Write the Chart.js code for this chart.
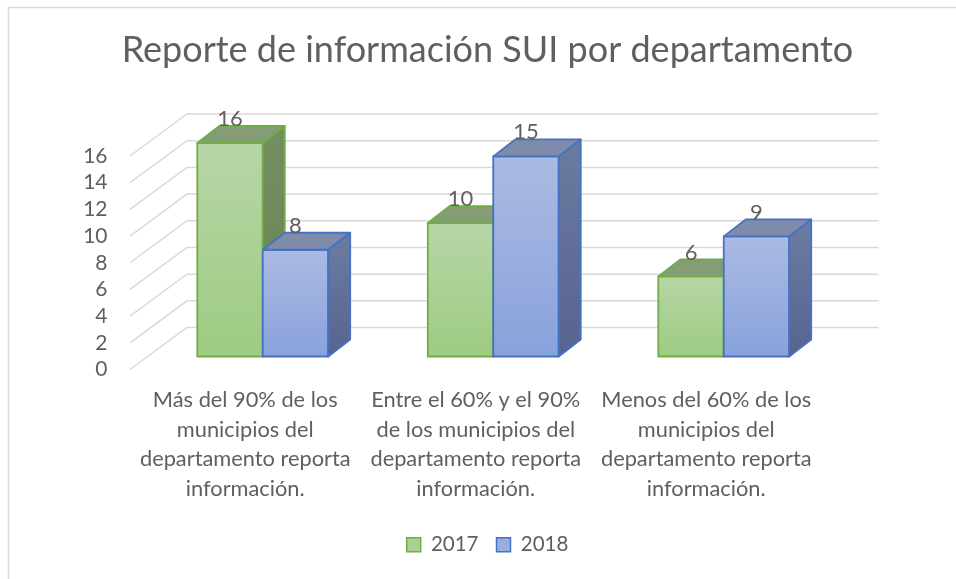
<!DOCTYPE html>
<html lang="es">
<head>
<meta charset="UTF-8">
<title>Reporte de información SUI por departamento</title>
<script src="https://cdn.jsdelivr.net/npm/chart.js"></script>
<style>
    html, body { margin: 0; padding: 0; background: #fff; }
    .marco { position: absolute; left: 0; top: 0; width: 956px; height: 579px; }
</style>
</head>
<body>
<div class="marco">
    <canvas id="grafico_barras" width="956" height="579"></canvas>
</div>
<script>
    // datos
    var categorias = [
        ['Más del 90% de los', 'municipios del', 'departamento reporta', 'información.'],
        ['Entre el 60% y el 90%', 'de los municipios del', 'departamento reporta', 'información.'],
        ['Menos del 60% de los', 'municipios del', 'departamento reporta', 'información.']
    ];
    var series = ['2017', '2018'];
    var valores_2017 = [16, 10, 6];
    var valores_2018 = [8, 15, 9];
    var ticks_y = [0, 2, 4, 6, 8, 10, 12, 14, 16];

    var gris = '#5f5f5f';
    var fuente = 'Lato, "Open Sans", sans-serif';

    // colores de cada serie: frente (arriba/abajo), borde, tapa y lado
    var estilos = [
        { arriba: '#b7d6a7', abajo: '#9ecb82', borde: '#70ad47', tapa: '#849d74', ladoA: '#738f62', ladoB: '#66834f' },
        { arriba: '#abbae2', abajo: '#89a2dc', borde: '#4472c4', tapa: '#7f8baa', ladoA: '#6a79a0', ladoB: '#56648e' }
    ];

    // desplazamientos de la perspectiva (desde el plano frontal de las barras)
    var frente = { x: -17.5, y: 13 };
    var fondo = { x: 39.5, y: -29 };
    var prof = { x: 22, y: -17 };

    const grafico3d = {
        id: 'grafico3d',
        beforeDraw(chart) {
            const ctx = chart.ctx;
            ctx.save();
            ctx.strokeStyle = '#d9d9d9';
            ctx.lineWidth = 1.5;
            ctx.beginPath();
            ctx.moveTo(8.5, 579);
            ctx.lineTo(8.5, 7.5);
            ctx.lineTo(956, 7.5);
            ctx.stroke();
            ctx.restore();
        },
        beforeDatasetsDraw(chart) {
            const ctx = chart.ctx;
            const area = chart.chartArea;
            const y = chart.scales.y;
            ctx.save();
            ctx.strokeStyle = '#d9d9d9';
            ctx.lineWidth = 1.5;
            ticks_y.forEach(function (v) {
                const py = y.getPixelForValue(v);
                ctx.beginPath();
                ctx.moveTo(area.left + frente.x, py + frente.y);
                ctx.lineTo(area.left + fondo.x, py + fondo.y);
                ctx.lineTo(area.right + fondo.x, py + fondo.y);
                ctx.stroke();
            });
            ctx.restore();
        },
        afterDatasetsDraw(chart) {
            const ctx = chart.ctx;
            ctx.save();
            ctx.lineJoin = 'round';
            ctx.lineWidth = 1.8;
            for (let i = 0; i < categorias.length; i++) {
                for (let d = 0; d < chart.data.datasets.length; d++) {
                    const barra = chart.getDatasetMeta(d).data[i];
                    const p = barra.getProps(['x', 'y', 'base', 'width'], true);
                    const e = estilos[d];
                    const l = p.x - p.width / 2, r = p.x + p.width / 2;

                    // frente
                    let g = ctx.createLinearGradient(0, p.y, 0, p.base);
                    g.addColorStop(0, e.arriba);
                    g.addColorStop(1, e.abajo);
                    ctx.fillStyle = g;
                    ctx.strokeStyle = e.borde;
                    ctx.beginPath();
                    ctx.rect(l, p.y, p.width, p.base - p.y);
                    ctx.fill();
                    ctx.stroke();

                    // tapa
                    ctx.fillStyle = e.tapa;
                    ctx.beginPath();
                    ctx.moveTo(l, p.y);
                    ctx.lineTo(l + prof.x, p.y + prof.y);
                    ctx.lineTo(r + prof.x, p.y + prof.y);
                    ctx.lineTo(r, p.y);
                    ctx.closePath();
                    ctx.fill();
                    ctx.stroke();

                    // lado
                    g = ctx.createLinearGradient(0, p.y, 0, p.base);
                    g.addColorStop(0, e.ladoA);
                    g.addColorStop(1, e.ladoB);
                    ctx.fillStyle = g;
                    ctx.beginPath();
                    ctx.moveTo(r, p.y);
                    ctx.lineTo(r + prof.x, p.y + prof.y);
                    ctx.lineTo(r + prof.x, p.base + prof.y);
                    ctx.lineTo(r, p.base);
                    ctx.closePath();
                    ctx.fill();
                    ctx.stroke();
                }
            }
            // etiquetas de valor
            ctx.fillStyle = gris;
            ctx.font = '22px ' + fuente;
            ctx.textAlign = 'center';
            ctx.textBaseline = 'bottom';
            chart.data.datasets.forEach(function (ds, d) {
                chart.getDatasetMeta(d).data.forEach(function (barra, i) {
                    ctx.fillText(ds.data[i], barra.x, barra.y + prof.y + 4);
                });
            });
            ctx.restore();
        }
    };

    const chart = new Chart('grafico_barras', {
        type: 'bar',
        data: {
            labels: categorias,
            datasets: [{
                label: series[0],
                data: valores_2017,
                backgroundColor: '#abd094',
                borderColor: '#70ad47',
                borderWidth: 1.5
            }, {
                label: series[1],
                data: valores_2018,
                backgroundColor: '#9aaede',
                borderColor: '#4472c4',
                borderWidth: 1.5
            }]
        },
        options: {
            responsive: false,
            animation: false,
            categoryPercentage: 0.568,
            barPercentage: 1,
            layout: { padding: { left: 19, right: 0, top: 0, bottom: 14 } },
            plugins: {
                title: {
                    display: true,
                    text: 'Reporte de información SUI por departamento',
                    color: gris,
                    font: { family: fuente, size: 36, weight: 'normal' },
                    padding: { top: 28.4, bottom: 71.4 }
                },
                legend: {
                    position: 'bottom',
                    labels: {
                        color: gris,
                        font: { family: fuente, size: 20.5 },
                        boxWidth: 14,
                        boxHeight: 14,
                        padding: 18
                    }
                },
                tooltip: { enabled: false }
            },
            scales: {
                x: {
                    grid: { display: false, drawTicks: false },
                    border: { display: false },
                    ticks: {
                        color: gris,
                        font: { family: fuente, size: 21.8, lineHeight: 1.35 },
                        maxRotation: 0,
                        autoSkip: false,
                        padding: 29,
                        labelOffset: frente.x
                    },
                    afterFit: function (s) { s.height = 160; }
                },
                y: {
                    min: 0,
                    max: 16,
                    grid: { display: false, drawTicks: false },
                    border: { display: false },
                    ticks: {
                        stepSize: 2,
                        autoSkip: false,
                        color: gris,
                        font: { family: fuente, size: 21 },
                        padding: 40,
                        labelOffset: frente.y
                    },
                    afterFit: function (s) { s.width = 128.5; }
                },
                margen: {
                    position: 'right',
                    grid: { display: false, drawTicks: false },
                    border: { display: false },
                    ticks: { display: false },
                    afterFit: function (s) { s.width = 117; }
                }
            }
        },
        plugins: [grafico3d]
    });
</script>
</body>
</html>
